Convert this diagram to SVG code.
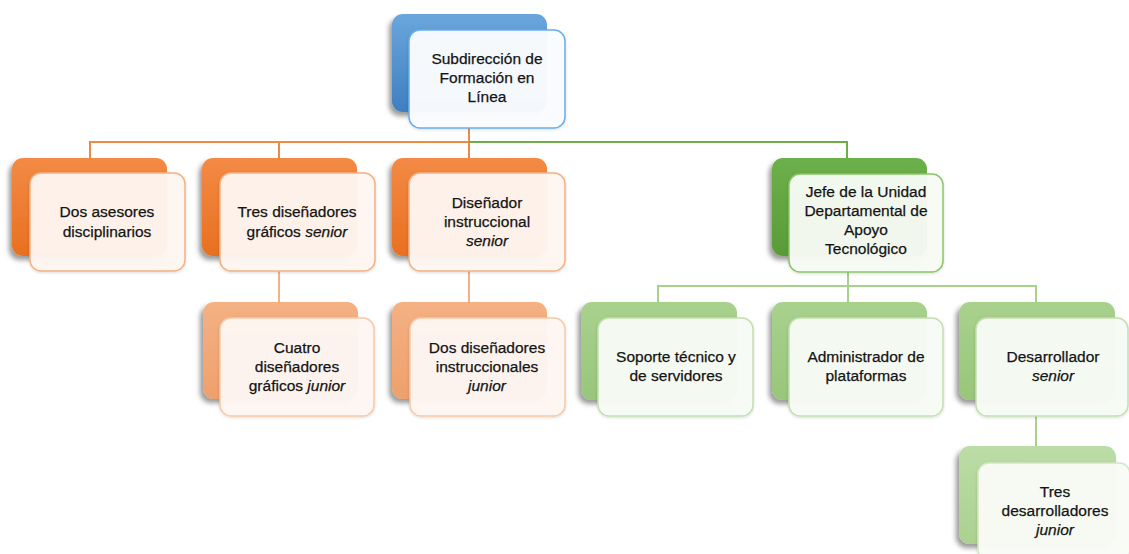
<svg xmlns="http://www.w3.org/2000/svg" width="1129" height="554" viewBox="0 0 1129 554">
<style>
text{font-family:"Liberation Sans",Arial,sans-serif;font-size:15.5px;fill:#141414;stroke:#141414;stroke-width:0.25;text-anchor:middle}
.it{font-style:italic}
.back{filter:url(#sh)}
.front{filter:url(#sh2)}
.c{fill:none;stroke-width:2}
</style>
<defs>
<filter id="sh" x="-20%" y="-20%" width="140%" height="150%">
<feDropShadow dx="-3" dy="4" stdDeviation="2.5" flood-color="#000" flood-opacity="0.4"/>
</filter>
<filter id="sh2" x="-20%" y="-20%" width="140%" height="150%">
<feDropShadow dx="0" dy="1" stdDeviation="1.5" flood-color="#000" flood-opacity="0.15"/>
</filter>
<linearGradient id="gB" x1="0" y1="0" x2="0" y2="1"><stop offset="0" stop-color="#6aa6dc"/><stop offset="1" stop-color="#3f7fc0"/></linearGradient>
<linearGradient id="gO" x1="0" y1="0" x2="0" y2="1"><stop offset="0" stop-color="#f38a45"/><stop offset="1" stop-color="#e8701f"/></linearGradient>
<linearGradient id="gOL" x1="0" y1="0" x2="0" y2="1"><stop offset="0" stop-color="#f4b183"/><stop offset="1" stop-color="#eea06c"/></linearGradient>
<linearGradient id="gG" x1="0" y1="0" x2="0" y2="1"><stop offset="0" stop-color="#6cb04a"/><stop offset="1" stop-color="#5a9b38"/></linearGradient>
<linearGradient id="gGL" x1="0" y1="0" x2="0" y2="1"><stop offset="0" stop-color="#a9d18e"/><stop offset="1" stop-color="#98c67a"/></linearGradient>
<linearGradient id="gGX" x1="0" y1="0" x2="0" y2="1"><stop offset="0" stop-color="#bcdca6"/><stop offset="1" stop-color="#abd190"/></linearGradient>
</defs>
<rect width="1129" height="554" fill="#ffffff"/>
<g id="connectors">
<path class="c" stroke="#f08a42" d="M469 128V142M90 158V142H469V158M279 158V142"/>
<path class="c" stroke="#70ad47" d="M469 142H847V158"/>
<path class="c" stroke="#f4b183" d="M279 271V302M469 271V302"/>
<path class="c" stroke="#a9d18e" d="M848 272V286M658 302V286H1036V302M848 286V302M1036 416V446"/>
</g>
<g id="n-subdireccion">
<rect class="back" x="392" y="14" width="155" height="98" rx="11" fill="url(#gB)"/>
<rect class="front" x="409" y="30" width="156" height="98" rx="11" fill="#fafcfe" fill-opacity="0.97" stroke="#6aaee6" stroke-width="1.5"/>
<text x="487" y="64">Subdirección de</text>
<text x="487" y="83">Formación en</text>
<text x="487" y="102">Línea</text>
</g>
<g id="n-asesores">
<rect class="back" x="12" y="158" width="155" height="98" rx="11" fill="url(#gO)"/>
<rect class="front" x="30" y="173" width="155" height="98" rx="11" fill="#fef6f0" fill-opacity="0.96" stroke="#f4b183" stroke-width="1.5"/>
<text x="107" y="217">Dos asesores</text>
<text x="107" y="237">disciplinarios</text>
</g>
<g id="n-graficos-senior">
<rect class="back" x="202" y="158" width="155" height="98" rx="11" fill="url(#gO)"/>
<rect class="front" x="220" y="173" width="155" height="98" rx="11" fill="#fef6f0" fill-opacity="0.96" stroke="#f4b183" stroke-width="1.5"/>
<text x="297" y="217">Tres diseñadores</text>
<text x="297" y="237">gráficos <tspan class="it">senior</tspan></text>
</g>
<g id="n-instruccional-senior">
<rect class="back" x="392" y="158" width="155" height="98" rx="11" fill="url(#gO)"/>
<rect class="front" x="409" y="173" width="156" height="98" rx="11" fill="#fef6f0" fill-opacity="0.96" stroke="#f4b183" stroke-width="1.5"/>
<text x="487" y="208">Diseñador</text>
<text x="487" y="227">instruccional</text>
<text x="487" y="246" class="it">senior</text>
</g>
<g id="n-jefe">
<rect class="back" x="772" y="158" width="155" height="98" rx="11" fill="url(#gG)"/>
<rect class="front" x="789" y="174" width="154" height="98" rx="11" fill="#f7fbf4" fill-opacity="0.96" stroke="#8cc56a" stroke-width="1.5"/>
<text x="866" y="197">Jefe de la Unidad</text>
<text x="866" y="216">Departamental de</text>
<text x="866" y="235">Apoyo</text>
<text x="866" y="254">Tecnológico</text>
</g>
<g id="n-graficos-junior">
<rect class="back" x="203" y="302" width="155" height="97" rx="11" fill="url(#gOL)"/>
<rect class="front" x="220" y="318" width="154" height="98" rx="11" fill="#fef7f2" fill-opacity="0.96" stroke="#f7c9a6" stroke-width="1.5"/>
<text x="297" y="353">Cuatro</text>
<text x="297" y="372">diseñadores</text>
<text x="297" y="391">gráficos <tspan class="it">junior</tspan></text>
</g>
<g id="n-instruccionales-junior">
<rect class="back" x="392" y="302" width="155" height="97" rx="11" fill="url(#gOL)"/>
<rect class="front" x="410" y="318" width="155" height="98" rx="11" fill="#fef7f2" fill-opacity="0.96" stroke="#f7c9a6" stroke-width="1.5"/>
<text x="487" y="353">Dos diseñadores</text>
<text x="487" y="372">instruccionales</text>
<text x="487" y="391" class="it">junior</text>
</g>
<g id="n-soporte">
<rect class="back" x="581" y="302" width="156" height="98" rx="11" fill="url(#gGL)"/>
<rect class="front" x="598" y="318" width="155" height="98" rx="11" fill="#f8fbf6" fill-opacity="0.96" stroke="#c3e0b0" stroke-width="1.5"/>
<text x="676" y="362">Soporte técnico y</text>
<text x="676" y="381">de servidores</text>
</g>
<g id="n-administrador">
<rect class="back" x="772" y="302" width="155" height="98" rx="11" fill="url(#gGL)"/>
<rect class="front" x="789" y="318" width="154" height="98" rx="11" fill="#f8fbf6" fill-opacity="0.96" stroke="#c3e0b0" stroke-width="1.5"/>
<text x="866" y="362">Administrador de</text>
<text x="866" y="381">plataformas</text>
</g>
<g id="n-desarrollador-senior">
<rect class="back" x="959" y="302" width="156" height="98" rx="11" fill="url(#gGL)"/>
<rect class="front" x="976" y="318" width="152" height="98" rx="11" fill="#f8fbf6" fill-opacity="0.96" stroke="#c3e0b0" stroke-width="1.5"/>
<text x="1053" y="362">Desarrollador</text>
<text x="1053" y="381" class="it">senior</text>
</g>
<g id="n-desarrolladores-junior">
<rect class="back" x="959" y="446" width="157" height="98" rx="11" fill="url(#gGX)"/>
<rect class="front" x="978" y="463" width="152" height="98" rx="11" fill="#f9fcf7" fill-opacity="0.96" stroke="#d3e8c5" stroke-width="1.5"/>
<text x="1055" y="497">Tres</text>
<text x="1055" y="516">desarrolladores</text>
<text x="1055" y="535" class="it">junior</text>
</g>
</svg>
